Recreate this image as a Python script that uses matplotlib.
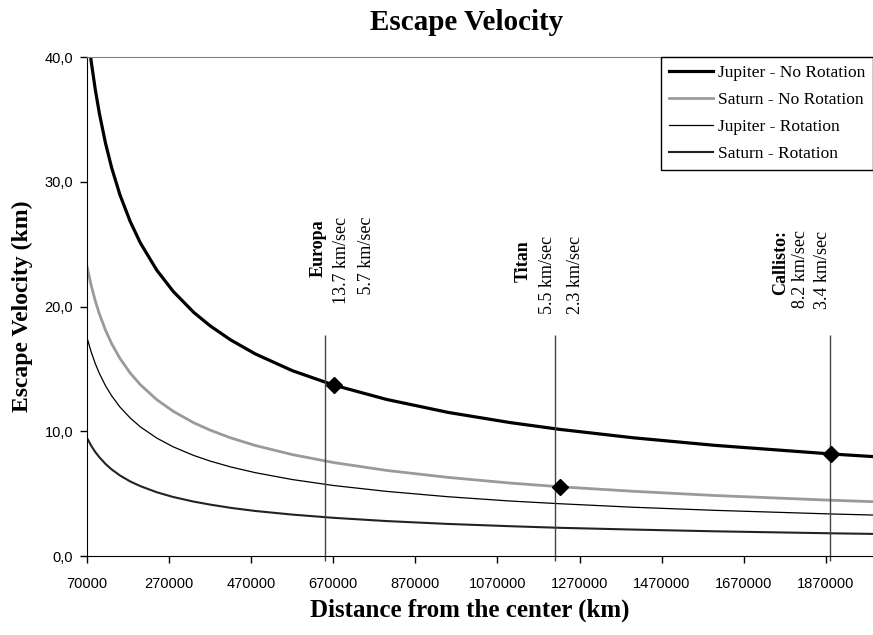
#!/usr/bin/env python

'''
plot escape velocity vs distance from the planet center
Jupiter and Saturn, with and without rotation
'''

import matplotlib
matplotlib.use('Agg')
import matplotlib.pyplot as plt

# distance from the center, km
dist = [70000, 80000, 90000, 100000, 115000, 130000, 150000, 175000, 200000,
        240000, 280000, 330000, 370000, 420000, 480000, 570000, 671000, 800000,
        950000, 1100000, 1222000, 1400000, 1600000, 1883000, 1990000]

# velocities, km/sec
jupiterNoRot = [42.41, 39.68, 37.41, 35.49, 33.09, 31.12, 28.97, 26.83, 25.09,
                22.91, 21.21, 19.53, 18.45, 17.32, 16.20, 14.86, 13.70, 12.55,
                11.51, 10.70, 10.15, 9.48, 8.87, 8.18, 7.96]
saturnNoRot = [23.20, 21.70, 20.46, 19.41, 18.10, 17.02, 15.85, 14.67, 13.73,
               12.53, 11.60, 10.68, 10.09, 9.47, 8.86, 8.13, 7.49, 6.86,
               6.30, 5.85, 5.55, 5.19, 4.85, 4.47, 4.35]
jupiterRot = [17.50, 16.37, 15.43, 14.64, 13.65, 12.84, 11.95, 11.07, 10.35,
              9.45, 8.75, 8.06, 7.61, 7.14, 6.68, 6.13, 5.65, 5.18,
              4.75, 4.41, 4.19, 3.91, 3.66, 3.37, 3.28]
saturnRot = [9.46, 8.85, 8.34, 7.92, 7.38, 6.94, 6.46, 5.98, 5.60,
             5.11, 4.73, 4.36, 4.12, 3.86, 3.61, 3.32, 3.06, 2.80,
             2.57, 2.39, 2.26, 2.12, 1.98, 1.82, 1.77]

# moons: name, marker position, vertical line position, label values
moonNames = ['Europa', 'Titan', 'Callisto:']
moonDist = [671000, 1222000, 1883000]
moonVel = [13.7, 5.5, 8.2]
moonLine = [651000, 1210000, 1880500]
moonText1 = ['13.7 km/sec', '5.5 km/sec', '8.2 km/sec']
moonText2 = ['   5.7 km/sec', '2.3 km/sec', '3.4 km/sec']

xTicks = [70000, 270000, 470000, 670000, 870000, 1070000, 1270000,
          1470000, 1670000, 1870000]
yTicks = [0, 10, 20, 30, 40]
yTickLabels = ['0,0', '10,0', '20,0', '30,0', '40,0']

serif = 'Liberation Serif'
sans = 'Liberation Sans'

fig = plt.figure(figsize=(8.73, 6.35), dpi=100)
ax = fig.add_axes([0.0997, 0.1244, 0.9003, 0.7858])

ax.plot(dist, jupiterNoRot, '-', color='black', lw=2.3, label='Jupiter - No Rotation')
ax.plot(dist, saturnNoRot, '-', color='#9a9a9a', lw=2.0, label='Saturn - No Rotation')
ax.plot(dist, jupiterRot, '-', color='black', lw=0.9, label='Jupiter - Rotation')
ax.plot(dist, saturnRot, '-', color='#222222', lw=1.5, label='Saturn - Rotation')

# moon markers, drop lines and labels
ax.plot(moonDist, moonVel, 'D', color='black', ms=8, zorder=5)
ax.vlines(moonLine, -0.4, 17.7, color='#444444', lw=1.0, clip_on=False)

labelX = [[633000, 690200, 751200], [1132000, 1193000, 1259000],
          [1761000, 1808000, 1861000]]
labelTop = [[27.0, 27.2, 27.2], [25.3, 25.7, 25.7], [26.1, 26.1, 26.1]]
for i in range(len(moonNames)):
   texts = [moonNames[i], moonText1[i], moonText2[i]]
   for j in range(3):
      ax.text(labelX[i][j], labelTop[i][j], texts[j], rotation=90,
              ha='center', va='top', family=serif, fontsize=13,
              fontweight='bold' if j == 0 else 'normal')

ax.set_xlim(70000, 1985000)
ax.set_ylim(0, 40)
ax.set_xticks(xTicks)
ax.set_xticklabels([str(t) for t in xTicks], family=sans, fontsize=10.5)
ax.set_yticks(yTicks)
ax.set_yticklabels(yTickLabels, family=sans, fontsize=10.5)
ax.tick_params(direction='out', length=5, width=1, color='black')
ax.tick_params(axis='x', pad=10)
ax.tick_params(axis='y', pad=5)

ax.spines['right'].set_visible(False)
ax.spines['top'].set_color('#808080')
ax.spines['left'].set_color('black')
ax.spines['bottom'].set_color('black')

# title and x label sit a little left of the plot centre
fig.text(0.535, 0.965, 'Escape Velocity', ha='center', va='center',
         family=serif, fontweight='bold', fontsize=21)
fig.text(0.538, 0.039, 'Distance from the center (km)', ha='center',
         va='center', family=serif, fontweight='bold', fontsize=18)
plt.ylabel('Escape Velocity (km)', family=serif, fontweight='bold',
           fontsize=17, labelpad=8)

leg = ax.legend(loc='upper right', borderaxespad=0, fancybox=False,
                edgecolor='black', framealpha=1, handlelength=2.5,
                handletextpad=0.3, labelspacing=0.62, borderpad=0.45,
                prop={'family': serif, 'size': 12.5})
leg.get_frame().set_linewidth(1.0)

plt.savefig('out.png', dpi=100)
print('Created plot: out.png')
